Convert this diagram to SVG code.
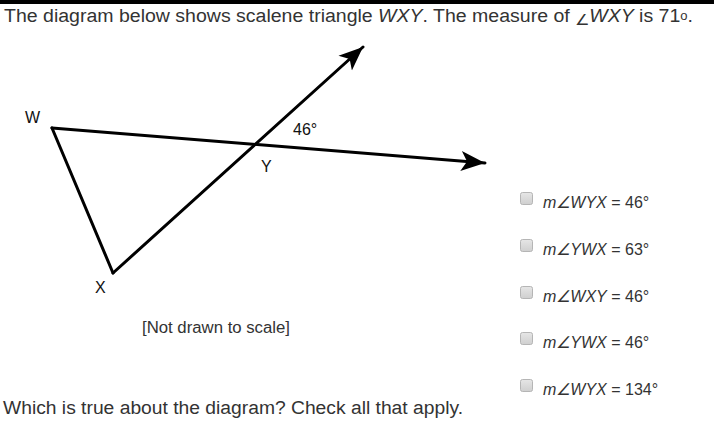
<svg xmlns="http://www.w3.org/2000/svg" width="714" height="426" viewBox="0 0 714 426">
<style>
text{font-family:"Liberation Sans",Arial,sans-serif;fill:#222}
.lbl{font-size:16px;fill:#111}
.q{font-size:18px;fill:#333}
.opt{font-size:16px;fill:#333}
.it{font-style:italic}
.ln{stroke:#000;stroke-width:3;fill:none;stroke-linecap:round}
.cb{fill:url(#g);stroke:#b5b5b5;stroke-width:1}
</style>
<defs>
<linearGradient id="g" x1="0" y1="0" x2="0" y2="1"><stop offset="0" stop-color="#e6e6e6"/><stop offset="1" stop-color="#cfcfcf"/></linearGradient>
<marker id="ah" viewBox="0 0 12 10" refX="12" refY="5" markerWidth="8" markerHeight="7" orient="auto" markerUnits="strokeWidth"><path d="M0,0 L12,5 L0,10 L3,5 Z" fill="#000"/></marker>
</defs>
<rect x="0" y="0" width="714" height="4" fill="#000"/>
<text class="q" x="4" y="22" textLength="689" lengthAdjust="spacingAndGlyphs">The diagram below shows scalene triangle <tspan class="it">WXY</tspan>. The measure of <tspan dy="3" font-size="15">∠</tspan><tspan dy="-3" class="it">WXY</tspan> is 71<tspan font-size="12" dy="-2">o</tspan><tspan dy="2">.</tspan></text>
<g id="connectors">
<line class="ln" x1="52" y1="128" x2="485" y2="163" marker-end="url(#ah)"/>
<line class="ln" x1="113" y1="273" x2="363" y2="47" marker-end="url(#ah)"/>
<line class="ln" x1="52" y1="128" x2="113" y2="273"/>
</g>
<g id="W"><text class="lbl" x="25" y="123">W</text></g>
<g id="X"><text class="lbl" x="95" y="293">X</text></g>
<g id="Y"><text class="lbl" x="261" y="172">Y</text></g>
<g id="angle46"><text class="lbl" x="293" y="135">46°</text></g>
<text class="lbl" x="142" y="333" textLength="148" lengthAdjust="spacingAndGlyphs" style="fill:#333">[Not drawn to scale]</text>
<g id="choices">
<g><rect class="cb" x="520.5" y="192.5" width="12" height="12" rx="2"/><text class="opt" x="543" y="208"><tspan class="it">m∠WYX</tspan> = 46°</text></g>
<g><rect class="cb" x="520.5" y="239.5" width="12" height="12" rx="2"/><text class="opt" x="543" y="255"><tspan class="it">m∠YWX</tspan> = 63°</text></g>
<g><rect class="cb" x="520.5" y="286.5" width="12" height="12" rx="2"/><text class="opt" x="543" y="302"><tspan class="it">m∠WXY</tspan> = 46°</text></g>
<g><rect class="cb" x="520.5" y="332.5" width="12" height="12" rx="2"/><text class="opt" x="543" y="348"><tspan class="it">m∠YWX</tspan> = 46°</text></g>
<g><rect class="cb" x="520.5" y="379.5" width="12" height="12" rx="2"/><text class="opt" x="543" y="395"><tspan class="it">m∠WYX</tspan> = 134°</text></g>
</g>
<text class="q" x="3" y="414" textLength="460" lengthAdjust="spacingAndGlyphs">Which is true about the diagram? Check all that apply.</text>
</svg>
